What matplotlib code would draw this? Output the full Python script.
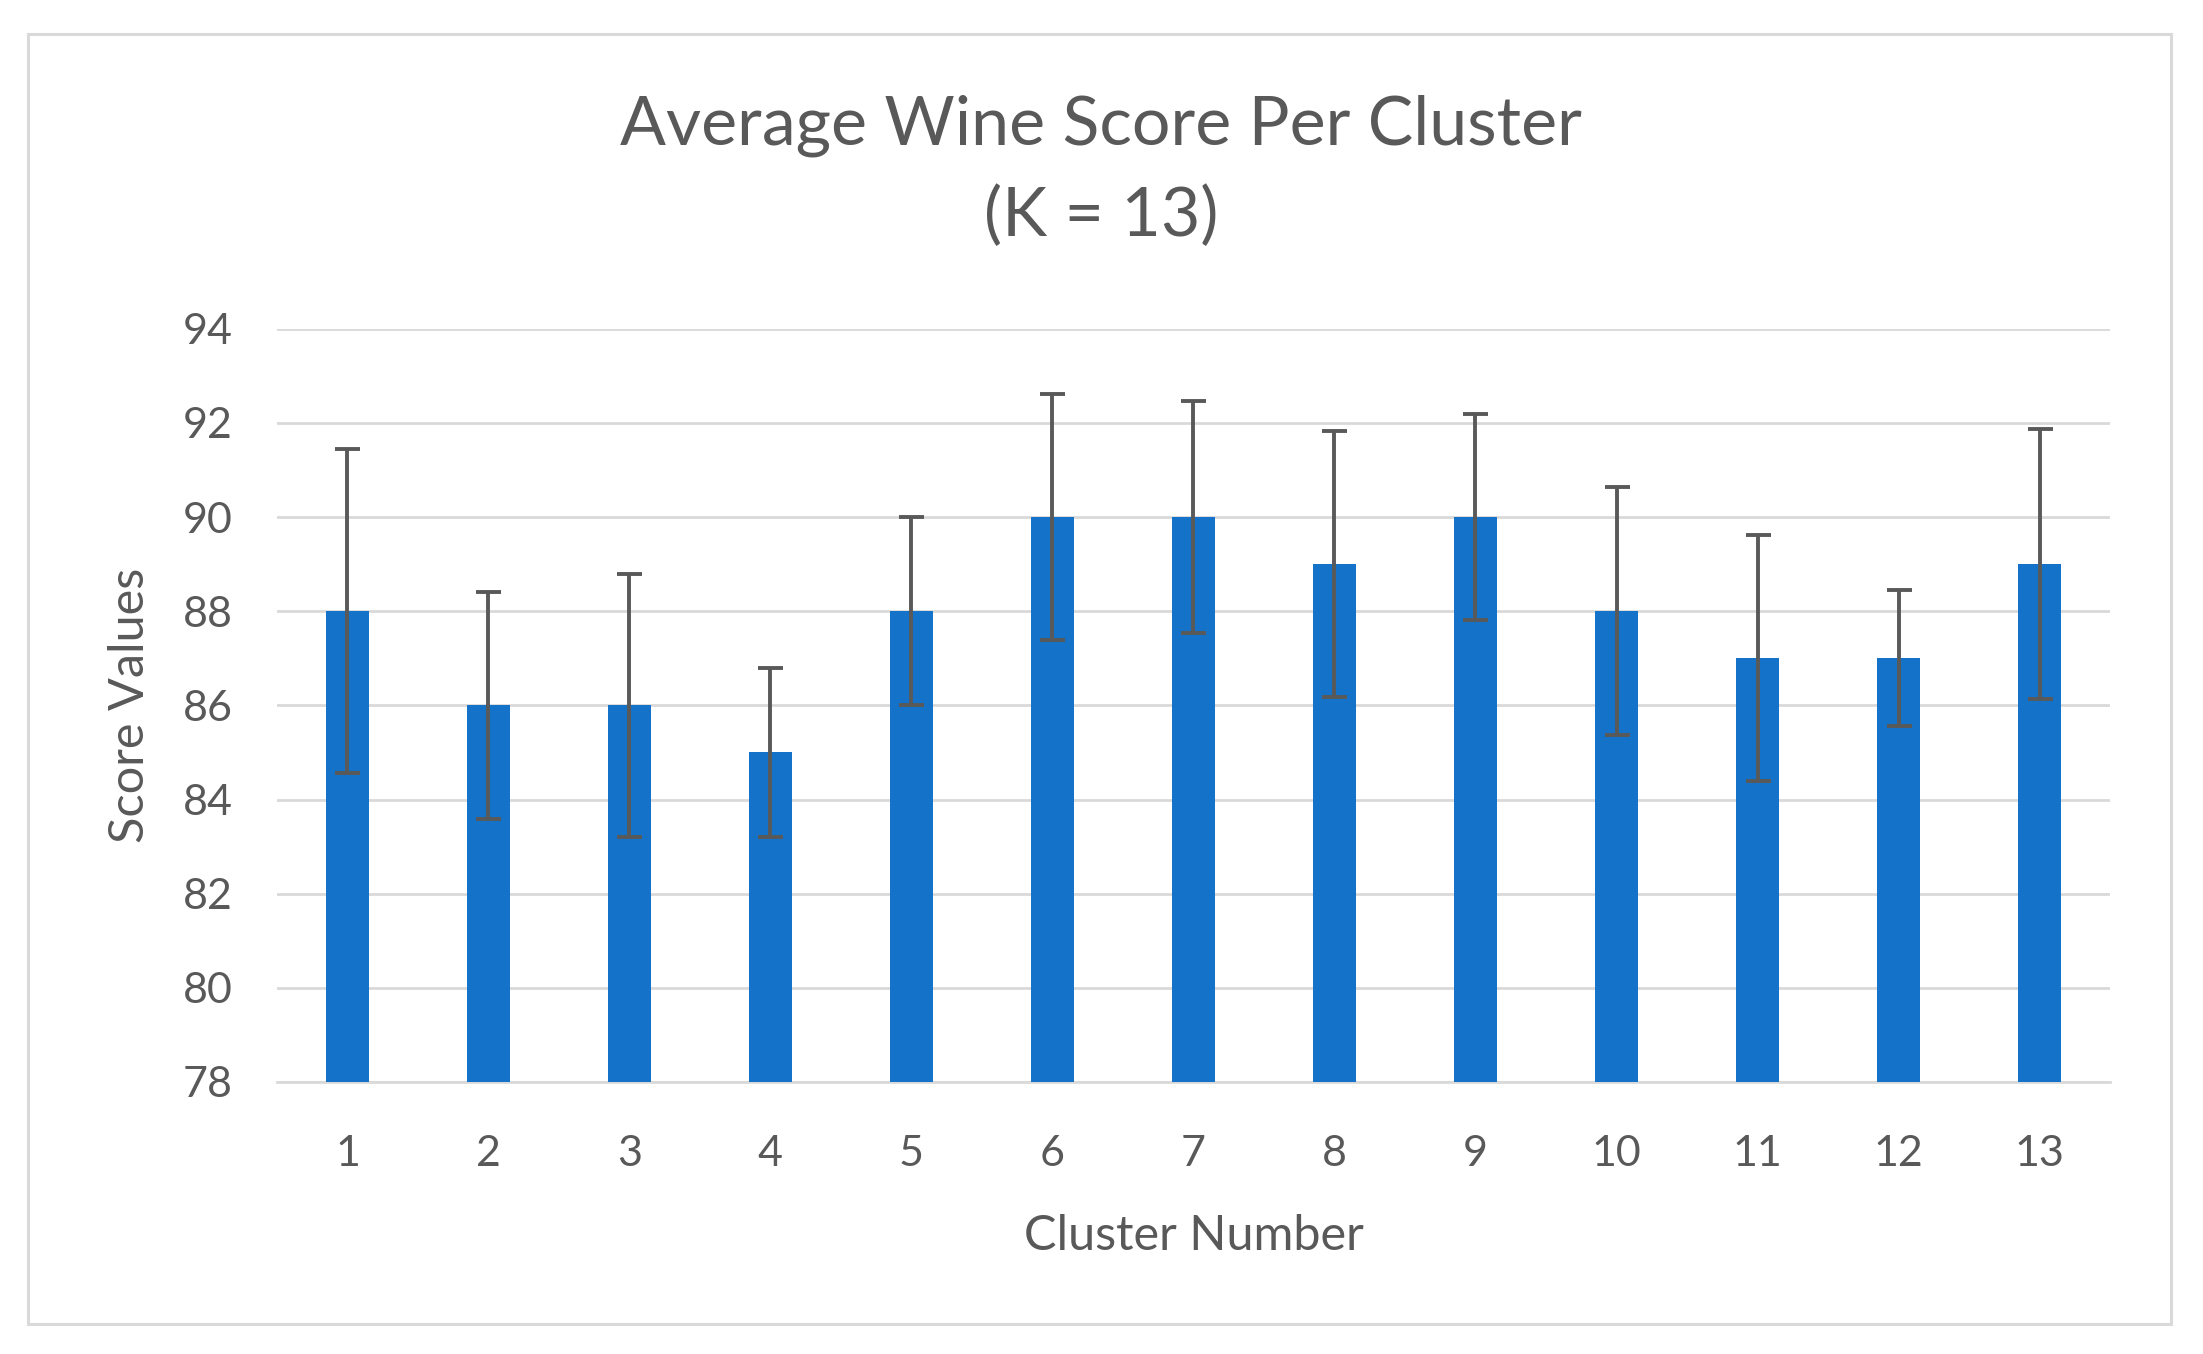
import numpy as np
import matplotlib
matplotlib.use('Agg')
import matplotlib.pyplot as plt
from matplotlib.patches import Rectangle

# cluster averages and std deviation
clusters = ['1', '2', '3', '4', '5', '6', '7', '8', '9', '10', '11', '12', '13']
scores = [88, 86, 86, 85, 88, 90, 90, 89, 90, 88, 87, 87, 89]
errors = [3.44, 2.41, 2.79, 1.79, 2.0, 2.61, 2.47, 2.83, 2.18, 2.64, 2.61, 1.44, 2.86]
yticks = [78, 80, 82, 84, 86, 88, 90, 92, 94]

plt.rcParams['font.family'] = ['Lato', 'DejaVu Sans']
text_col = '#595959'

fig = plt.figure(figsize=(22.03, 13.54), dpi=100)
fig.patch.set_facecolor('white')

# light grey frame around the whole chart
fig.patches.append(Rectangle((0.0125, 0.022), 0.973, 0.953, transform=fig.transFigure,
                             fill=False, edgecolor='#D9D9D9', linewidth=2.2))

ax = fig.add_axes([0.1257, 0.2009, 0.8321, 0.5563])
x = np.arange(len(clusters))
ax.bar(x, [s - 78 for s in scores], bottom=78, width=0.3, color='#1572C9', zorder=3)
ax.errorbar(x, scores, yerr=errors, fmt='none', ecolor='#595959', elinewidth=2.8,
            capsize=9, capthick=2.8, zorder=4)

ax.set_xlim(-0.5, len(clusters) - 0.5)
ax.set_ylim(78, 94)
ax.set_yticks(yticks)
ax.set_xticks(x)
ax.set_xticklabels(clusters)
ax.yaxis.grid(True, color='#D9D9D9', linewidth=2.0, zorder=0)
ax.set_axisbelow(True)
for s in ['top', 'right', 'left']:
    ax.spines[s].set_visible(False)
ax.spines['bottom'].set_color('#D9D9D9')
ax.spines['bottom'].set_linewidth(2.0)
ax.tick_params(axis='both', length=0, labelsize=31, colors=text_col)
ax.tick_params(axis='x', pad=38)
ax.tick_params(axis='y', pad=32)

ax.set_xlabel('Cluster Number', fontsize=35, color=text_col, labelpad=30)
ax.set_ylabel('Score Values', fontsize=35, color=text_col, labelpad=22)

fig.text(0.4997, 0.907, 'Average Wine Score Per Cluster', ha='center', va='center',
         fontsize=49, color=text_col)
fig.text(0.4997, 0.840, '(K = 13)', ha='center', va='center', fontsize=49, color=text_col)

fig.savefig('out.png', dpi=100)
